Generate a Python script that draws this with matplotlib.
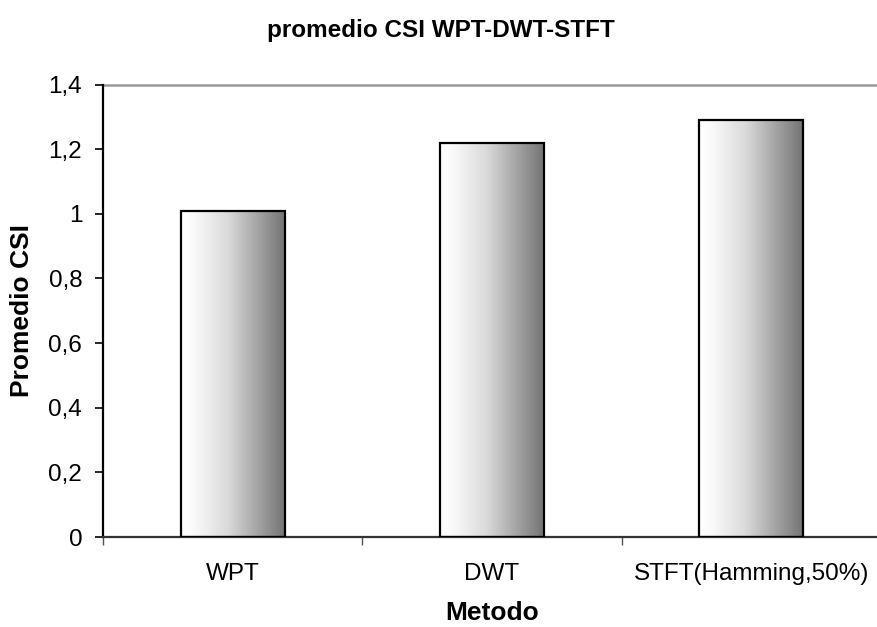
import numpy as np
import matplotlib
matplotlib.use("Agg")
import matplotlib.pyplot as plt
from matplotlib.colors import LinearSegmentedColormap

categories = ["WPT", "DWT", "STFT(Hamming,50%)"]
values = [1.01, 1.22, 1.29]
yticks = [0, 0.2, 0.4, 0.6, 0.8, 1.0, 1.2, 1.4]
ytick_labels = ["0", "0,2", "0,4", "0,6", "0,8", "1", "1,2", "1,4"]

plt.rcParams['font.family'] = ['Liberation Sans', 'DejaVu Sans']

W, H = 877, 627
fig = plt.figure(figsize=(W / 100, H / 100), dpi=100)
ax = fig.add_axes([103 / W, 1 - 537 / H, (881 - 103) / W, (537 - 84.5) / H])

x = np.arange(len(categories))
bars = ax.bar(x, values, width=0.4, facecolor='none', edgecolor='black',
              linewidth=1.6, zorder=3)

cmap = LinearSegmentedColormap.from_list(
    'g', [(0.0, '#ffffff'), (0.12, '#fafafa'), (0.45, '#dadada'),
          (0.75, '#a2a2a2'), (1.0, '#747474')])
grad = np.linspace(0, 1, 256).reshape(1, -1)
for b in bars:
    bx, bw, bh = b.get_x(), b.get_width(), b.get_height()
    ax.imshow(grad, cmap=cmap, aspect='auto', extent=[bx, bx + bw, 0, bh],
              zorder=2, interpolation='bicubic')

ax.set_xlim(-0.5, len(categories) - 0.5)
ax.set_ylim(0, 1.4)
ax.axhline(1.4, color='#999999', linewidth=1.8, zorder=1, clip_on=False)

ax.set_yticks(yticks)
ax.set_yticklabels(ytick_labels, fontsize=17.5)
ax.tick_params(axis='y', direction='out', length=6, width=1.2, pad=9)

ax.set_xticks(x)
ax.set_xticklabels(categories, fontsize=17.5)
ax.tick_params(axis='x', which='major', length=0, pad=19)
ax.set_xticks(np.arange(-0.5, len(categories) + 0.5, 1.0), minor=True)
ax.tick_params(axis='x', which='minor', direction='out', length=6, width=1.0,
               color='#555555')

for s in ['top', 'right']:
    ax.spines[s].set_visible(False)
ax.spines['left'].set_linewidth(1.6)
ax.spines['bottom'].set_linewidth(1.6)
ax.spines['bottom'].set_color('#333333')

ax.set_ylabel("Promedio CSI", fontsize=19, fontweight='bold')
ax.yaxis.set_label_coords((22 - 103) / (881 - 103), 0.5)
ax.set_xlabel("Metodo", fontsize=19, fontweight='bold')
ax.xaxis.set_label_coords(0.5, -(613 - 537) / (537 - 84.5))
ax.xaxis.label.set_va('center')
ax.yaxis.label.set_va('center')

fig.text(441 / W, 1 - 30 / H, "promedio CSI WPT-DWT-STFT", fontsize=17.5,
         fontweight='bold', ha='center', va='center')

fig.savefig("out.png", dpi=100)
